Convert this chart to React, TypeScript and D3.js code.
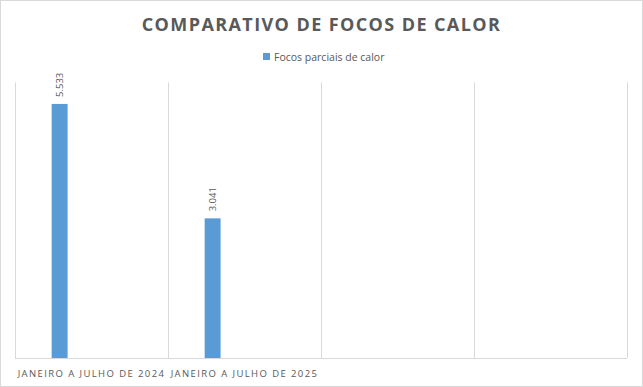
import React, { useEffect, useRef } from 'react'
import * as d3 from 'd3'

const categories = ['JANEIRO A JULHO DE 2024', 'JANEIRO A JULHO DE 2025', 'cat3', 'cat4']
const categoryLabels = ['JANEIRO A JULHO DE 2024', 'JANEIRO A JULHO DE 2025', '', '']
// only the first series has values; the chart keeps room for 5 series per category
const seriesNames = ['Focos parciais de calor', 's2', 's3', 's4', 's5']
const focosParciais = [5533, 3041, null, null]
const yMax = 6000

const W = 643
const H = 387

export default function App() {
  const ref = useRef<SVGSVGElement>(null)

  useEffect(() => {
    const svg = d3.select(ref.current)
    svg.selectAll('*').remove()

    const margin = { top: 82.5, right: 16, bottom: 29, left: 15 }
    const grey = '#595959'
    const lineColor = '#d9d9d9'

    // chart frame
    svg.append('rect')
      .attr('x', 0.5).attr('y', 0.5)
      .attr('width', W - 1).attr('height', H - 1)
      .attr('fill', '#fff').attr('stroke', lineColor)

    const x0 = d3.scaleBand()
      .domain(categories)
      .range([margin.left, W - margin.right])

    const x1 = d3.scaleBand()
      .domain(seriesNames)
      .range([0, x0.bandwidth()])
      .paddingInner(0)
      .paddingOuter(2.3)

    const y = d3.scaleLinear()
      .domain([0, yMax])
      .range([H - margin.bottom, margin.top])

    // vertical gridlines at category boundaries
    const bounds = categories.map(c => x0(c)!).concat([x0.range()[1]])
    svg.append('g').selectAll('line')
      .data(bounds)
      .join('line')
      .attr('x1', d => Math.round(d) + 0.5)
      .attr('x2', d => Math.round(d) + 0.5)
      .attr('y1', y(yMax))
      .attr('y2', y(0))
      .attr('stroke', lineColor)

    // bottom axis line
    svg.append('line')
      .attr('x1', margin.left).attr('x2', W - margin.right)
      .attr('y1', Math.round(y(0)) + 0.5).attr('y2', Math.round(y(0)) + 0.5)
      .attr('stroke', lineColor)

    const pts = categories
      .map((c, i) => ({ c, v: focosParciais[i] }))
      .filter(d => d.v != null) as { c: string; v: number }[]

    svg.append('g').selectAll('rect')
      .data(pts)
      .join('rect')
      .attr('x', d => x0(d.c)! + x1(seriesNames[0])!)
      .attr('width', x1.bandwidth())
      .attr('y', d => y(d.v))
      .attr('height', d => y(0) - y(d.v))
      .attr('fill', '#5b9bd5')

    // data labels, rotated
    const fmt = (v: number) => d3.format(',')(v).replace(/,/g, '.')
    svg.append('g').selectAll('text')
      .data(pts)
      .join('text')
      .attr('transform', d => {
        const cx = x0(d.c)! + x1(seriesNames[0])! + x1.bandwidth() / 2 + 3.5
        return `translate(${cx},${y(d.v) - 7}) rotate(-90)`
      })
      .attr('text-anchor', 'start')
      .attr('font-family', 'Open Sans, sans-serif')
      .attr('font-size', 9.5)
      .attr('fill', grey)
      .text(d => fmt(d.v))

    // category labels
    svg.append('g').selectAll('text')
      .data(categories)
      .join('text')
      .attr('x', (d) => x0(d)! + x0.bandwidth() / 2)
      .attr('y', H - 10)
      .attr('text-anchor', 'middle')
      .attr('font-family', 'Open Sans, sans-serif')
      .attr('font-size', 9.5)
      .attr('letter-spacing', 1.4)
      .attr('fill', grey)
      .text((d, i) => categoryLabels[i])

    // title
    svg.append('text')
      .attr('x', W / 2)
      .attr('y', 31)
      .attr('text-anchor', 'middle')
      .attr('font-family', 'Open Sans, sans-serif')
      .attr('font-weight', 'bold')
      .attr('font-size', 18)
      .attr('letter-spacing', 1.4)
      .attr('fill', grey)
      .text('COMPARATIVO DE FOCOS DE CALOR')

    // legend
    const lg = svg.append('g')
    lg.append('rect')
      .attr('x', 263).attr('y', 53)
      .attr('width', 7).attr('height', 7)
      .attr('fill', '#5b9bd5')
    lg.append('text')
      .attr('x', 274).attr('y', 60.5)
      .attr('font-family', 'Open Sans, sans-serif')
      .attr('font-size', 10.5)
      .attr('fill', grey)
      .text(seriesNames[0])
  }, [])

  return (
    <svg
      ref={ref}
      width={W}
      height={H}
      style={{ position: 'absolute', left: 0, top: 0, background: '#fff' }}
    />
  )
}
